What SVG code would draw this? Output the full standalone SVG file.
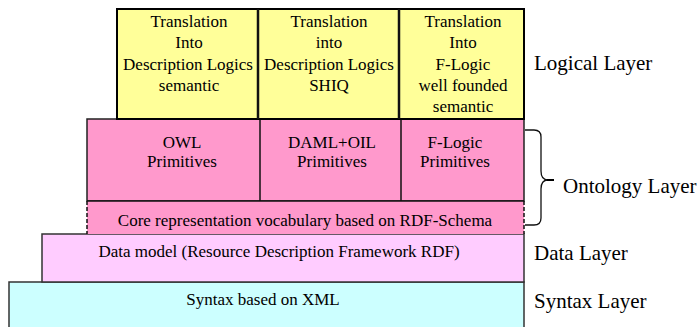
<svg xmlns="http://www.w3.org/2000/svg" width="699" height="327" viewBox="0 0 699 327">
<style>
text{font-family:"Liberation Serif","Times New Roman",serif;fill:#000}
.b{font-size:17px;text-anchor:middle}
.l{font-size:21px}
.y{fill:#ffff99;stroke:#000;stroke-width:2}
.p{fill:#ff99cc;stroke:#222;stroke-width:1.5}
.ln{stroke:#111;fill:none}
</style>
<rect width="699" height="327" fill="#fff"/>
<g id="syntax">
<rect x="9" y="282" width="515" height="50" fill="#ccffff" stroke="#333" stroke-width="1.5"/>
<text class="b" x="263" y="305">Syntax based on XML</text>
</g>
<g id="data">
<rect x="42" y="234" width="482" height="48" fill="#ffccff" stroke="#333" stroke-width="1.5"/>
<text class="b" x="279" y="257">Data model (Resource Description Framework RDF)</text>
</g>
<g id="ontology">
<rect x="87" y="119" width="437" height="82" class="p"/>
<rect x="87" y="201" width="437" height="33" fill="#ff99cc"/>
<line x1="87" y1="201" x2="524" y2="201" class="ln" stroke-width="1.5"/>
<line x1="87" y1="201" x2="87" y2="234" class="ln" stroke-width="1.5" stroke-dasharray="4,2"/>
<line x1="524" y1="201" x2="524" y2="234" class="ln" stroke-width="1.5" stroke-dasharray="4,2"/>
<line x1="260" y1="119" x2="260" y2="201" class="ln" stroke-width="1.5"/>
<line x1="401" y1="119" x2="401" y2="201" class="ln" stroke-width="1.5"/>
<text class="b" x="182" y="148">OWL</text>
<text class="b" x="182" y="167">Primitives</text>
<text class="b" x="332" y="148">DAML+OIL</text>
<text class="b" x="332" y="167">Primitives</text>
<text class="b" x="455" y="148">F-Logic</text>
<text class="b" x="455" y="167">Primitives</text>
<text class="b" x="305" y="226">Core representation vocabulary based on RDF-Schema</text>
</g>
<g id="logical">
<rect x="117" y="9" width="407" height="110" class="y"/>
<line x1="258" y1="9" x2="258" y2="119" class="ln" stroke-width="2.5"/>
<line x1="399" y1="9" x2="399" y2="119" class="ln" stroke-width="2.5"/>
<text class="b" x="189" y="27">Translation</text>
<text class="b" x="189" y="48">Into</text>
<text class="b" x="188" y="70">Description Logics</text>
<text class="b" x="189" y="91">semantic</text>
<text class="b" x="329" y="27">Translation</text>
<text class="b" x="329" y="48">into</text>
<text class="b" x="329" y="70">Description Logics</text>
<text class="b" x="329" y="91">SHIQ</text>
<text class="b" x="463" y="27">Translation</text>
<text class="b" x="463" y="48">Into</text>
<text class="b" x="463" y="70">F-Logic</text>
<text class="b" x="463" y="91">well founded</text>
<text class="b" x="463" y="112">semantic</text>
</g>
<g id="connectors">
<path d="M525,130 L534,130 Q541,130 541,137 L541,171 Q541,180 548,180 Q541,180 541,189 L541,218 Q541,225 534,225 L525,225" class="ln" stroke-width="1.3"/>
<line x1="547" y1="180" x2="554" y2="180" stroke="#000" stroke-width="2"/>
</g>
<g id="labels">
<text class="l" x="534" y="70">Logical Layer</text>
<text class="l" x="563" y="193" font-size="20">Ontology Layer</text>
<text class="l" x="534" y="260">Data Layer</text>
<text class="l" x="534" y="308">Syntax Layer</text>
</g>
</svg>
